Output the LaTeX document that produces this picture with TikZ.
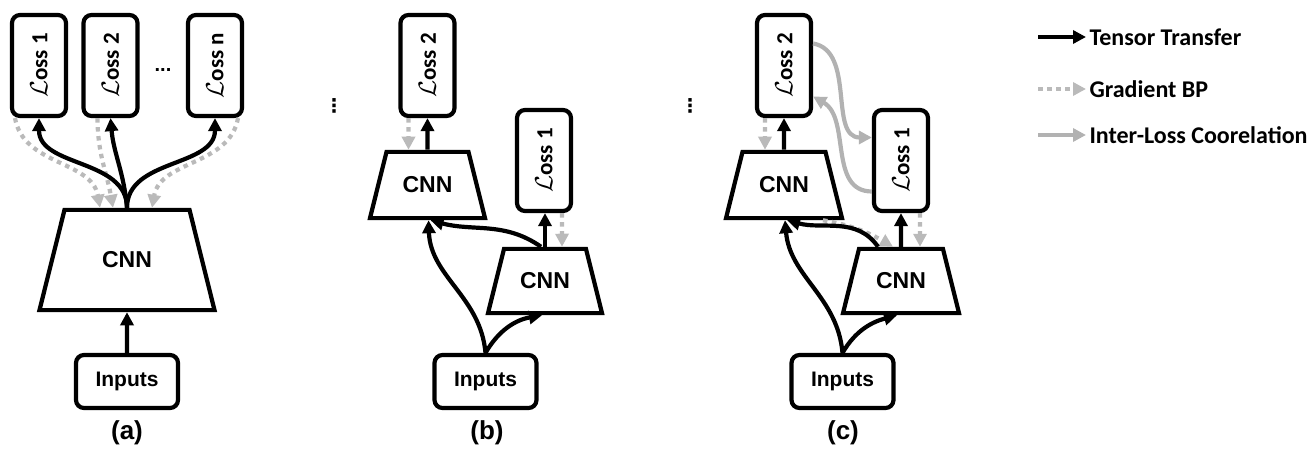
\documentclass[tikz,border=0pt]{standalone}
\usepackage{fontspec}
\setmainfont{Carlito}
\newfontfamily\arialfont{Liberation Sans}
\newfontfamily\symfont{DejaVu Sans}
\usetikzlibrary{shapes.geometric,arrows.meta}

\tikzset{
  box/.style={draw, line width=4.2pt, rounded corners=8pt, fill=white, inner sep=0pt},
  lossbox/.style={box, minimum width=54pt, minimum height=101pt, font=\bfseries\fontsize{23}{27}\selectfont},
  inbox/.style={box, minimum width=102pt, minimum height=53pt, font=\arialfont\bfseries\fontsize{21}{25}\selectfont},
  cnn/.style={draw, line width=4.2pt, trapezium, trapezium stretches body,
    trapezium left angle=76, trapezium right angle=76, fill=white, inner xsep=0pt,
    font=\arialfont\bfseries\fontsize{23}{27}\selectfont},
  flow/.style={line width=4.2pt, -{Triangle[length=13pt,width=13pt]}},
  grad/.style={black!27, line width=4.2pt, dash pattern=on 4.5pt off 4.5pt, -{Triangle[length=13pt,width=13pt]}},
  corr/.style={black!30, line width=4.2pt, -{Triangle[length=13pt,width=13pt]}},
  caption/.style={font=\arialfont\bfseries\fontsize{26}{30}\selectfont},
  legend/.style={anchor=west, font=\bfseries\fontsize{24}{28}\selectfont},
  vdots/.style={font=\symfont\bfseries\fontsize{19}{22}\selectfont},
}

\begin{document}
\begin{tikzpicture}[x=1pt,y=1pt]
        \useasboundingbox (0,0) rectangle (1312,453);
        % (a) one CNN, n losses
        \node[lossbox] (lossAa) at (39,387.5)  {\rotatebox{90}{$\mathcal{L}$oss 1}};
        \node[lossbox] (lossAb) at (110.5,387.5) {\rotatebox{90}{$\mathcal{L}$oss 2}};
        \node[lossbox] (lossAn) at (215,387.5) {\rotatebox{90}{$\mathcal{L}$oss n}};
        \node[anchor=base, font=\arialfont\bfseries\fontsize{20}{24}\selectfont] (dotsA) at (163,381) {...};
        \node[cnn, minimum width=175pt, inner ysep=42pt] (cnnA) at (127,193) {CNN};
        \node[inbox] (inA) at (127,71.5) {Inputs};
        \node[caption] (capA) at (127,20) {(a)};
        \draw[flow] (inA) -- (cnnA);
        \draw[grad] ([xshift=-24pt]lossAa.south) to[out=-80,in=100] ([xshift=-27pt]cnnA.north);
        \draw[grad] ([xshift=-13pt]lossAb.south) to[out=-90,in=100] ([xshift=-14pt]cnnA.north);
        \draw[grad] ([xshift=23pt]lossAn.south) to[out=-100,in=80] ([xshift=25pt]cnnA.north);
        \draw[flow] (cnnA.north) to[out=90,in=-90] (lossAa.south);
        \draw[flow] (cnnA.north) to[out=95,in=-85] (lossAb.south);
        \draw[flow] (cnnA.north) to[out=90,in=-90] (lossAn.south);
        % (b) two CNNs, no link between losses
        \node[vdots] (dotsB) at (334,347) {⋮};
        \node[lossbox] (lossBb) at (427.5,387.5) {\rotatebox{90}{$\mathcal{L}$oss 2}};
        \node[cnn, minimum width=115pt, inner ysep=25pt] (cnnBu) at (427.5,268) {CNN};
        \node[lossbox] (lossBa) at (544,292.5) {\rotatebox{90}{$\mathcal{L}$oss 1}};
        \node[cnn, minimum width=114pt, inner ysep=24pt] (cnnBl) at (545,172) {CNN};
        \node[inbox] (inB) at (485.5,71.5) {Inputs};
        \node[caption] (capB) at (487,20) {(b)};
        \draw[grad] ([xshift=-19pt]lossBb.south) -- ([xshift=-19pt]cnnBu.north);
        \draw[flow] (cnnBu.north) -- (lossBb.south);
        \draw[grad] ([xshift=18pt]lossBa.south) -- ([xshift=17pt]cnnBl.north);
        \draw[flow] (cnnBl.north) -- (cnnBl.north |- lossBa.south);
        \draw[flow] ([xshift=-4pt]cnnBl.north) to[out=145,in=-15] ([xshift=3pt]cnnBu.south);
        \draw[flow] (inB.north) to[out=95,in=-88] ([xshift=1pt]cnnBu.south);
        \draw[flow] (inB.north) to[out=60,in=190] ([xshift=-3pt]cnnBl.south);
        % (c) two CNNs, correlated losses
        \node[vdots] (dotsC) at (690,347) {⋮};
        \node[lossbox] (lossCb) at (784,387.5) {\rotatebox{90}{$\mathcal{L}$oss 2}};
        \node[cnn, minimum width=116pt, inner ysep=25pt] (cnnCu) at (784,268) {CNN};
        \node[lossbox] (lossCa) at (901,292.5) {\rotatebox{90}{$\mathcal{L}$oss 1}};
        \node[cnn, minimum width=116pt, inner ysep=24pt] (cnnCl) at (901,172) {CNN};
        \node[inbox] (inC) at (842.5,71.5) {Inputs};
        \node[caption] (capC) at (843,20) {(c)};
        \draw[grad] ([xshift=-19pt]lossCb.south) -- ([xshift=-19pt]cnnCu.north);
        \draw[flow] (cnnCu.north) -- (lossCb.south);
        \draw[grad] ([xshift=19pt]lossCa.south) -- ([xshift=19pt]cnnCl.north);
        \draw[flow] (cnnCl.north) -- (lossCa.south);
        \draw[grad] ([xshift=39pt]cnnCu.south) to[out=-10,in=150] ([xshift=-8pt]cnnCl.north);
        \draw[flow] ([xshift=-23pt]cnnCl.north) to[out=125,in=-15] ([xshift=3pt]cnnCu.south);
        \draw[flow] (inC.north) to[out=95,in=-85] ([xshift=1pt]cnnCu.south);
        \draw[flow] (inC.north) to[out=60,in=195] ([xshift=-4pt]cnnCl.south);
        \draw[corr] ([yshift=22pt]lossCb.east) to[out=-10,in=180] ([yshift=23pt]lossCa.west);
        \draw[corr] ([yshift=-31pt]lossCa.west) to[out=180,in=-30] ([yshift=-31pt]lossCb.east);
        % legend
        \coordinate (lgAs) at (1038,416);
        \coordinate (lgBs) at (1038,364);
        \coordinate (lgCs) at (1038,318);
        \node[legend] (lgA) at (1086,416) {Tensor Transfer};
        \node[legend] (lgB) at (1086,364) {Gradient BP};
        \node[legend] (lgC) at (1086,318) {Inter-Loss Coorelation};
        \draw[flow] (lgAs) -- (lgA.west);
        \draw[grad] (lgBs) -- (lgB.west);
        \draw[corr] (lgCs) -- (lgC.west);
\end{tikzpicture}
\end{document}
